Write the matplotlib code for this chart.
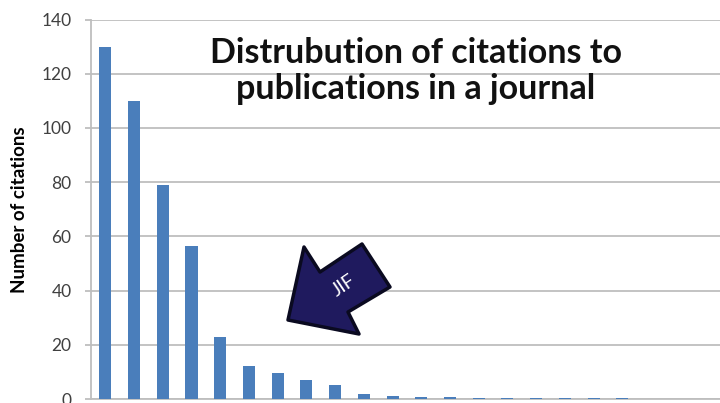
import matplotlib
matplotlib.use('Agg')
import matplotlib.pyplot as plt
from matplotlib.patches import Polygon

# data
publications = list(range(1, 20))
citations = [130, 110, 79, 56.5, 23, 12, 9.5, 7, 5, 2, 1.2, 0.8, 0.6, 0.5, 0.5, 0.5, 0.5, 0.5, 0.5]
yticks = [0, 20, 40, 60, 80, 100, 120, 140]

plt.rcParams['font.family'] = ['Lato', 'DejaVu Sans']

fig = plt.figure(figsize=(7.2, 4.03), dpi=100)
ax = fig.add_axes([91 / 720, 4 / 403, (720 - 91) / 720, (399 - 19.6) / 403])

ax.bar(publications, citations, width=0.42, color='#4A7EBB', zorder=3)

ax.set_xlim(0.5, 22.4)
ax.set_ylim(0, 140)
ax.set_yticks(yticks)
ax.set_xticks([])
ax.yaxis.grid(True, color='#BEBEBE', linewidth=1.3, zorder=0)
ax.tick_params(axis='y', length=4, width=1.3, color='#BEBEBE', pad=10, labelsize=12.5, labelcolor='#404040')
for s in ['top', 'right']:
    ax.spines[s].set_visible(False)
for s in ['left', 'bottom']:
    ax.spines[s].set_color('#BEBEBE')
    ax.spines[s].set_linewidth(1.3)

ax.set_ylabel('Number of citations', fontsize=13.5, fontweight='bold', labelpad=10)

fig.text(416 / 720, 1 - 71 / 403, 'Distrubution of citations to\npublications in a journal',
         ha='center', va='center', fontsize=24.5, fontweight='bold', linespacing=1.18, color='#111111')

# block arrow pointing at the JIF position (image pixel coords)
arrow_px = [(288, 320), (304, 247), (320, 272), (362, 244), (390, 287), (348, 312), (359, 334)]
arrow_fig = [(x / 720, 1 - y / 403) for x, y in arrow_px]
fig.patches.append(Polygon(arrow_fig, closed=True, transform=fig.transFigure,
                           facecolor='#1F1A5E', edgecolor='#0A0A20', linewidth=2.5, joinstyle='round'))
fig.text(344 / 720, 1 - 286 / 403, 'JIF', rotation=34, ha='center', va='center',
         fontsize=14, color='white')

fig.savefig('out.png', dpi=100)
